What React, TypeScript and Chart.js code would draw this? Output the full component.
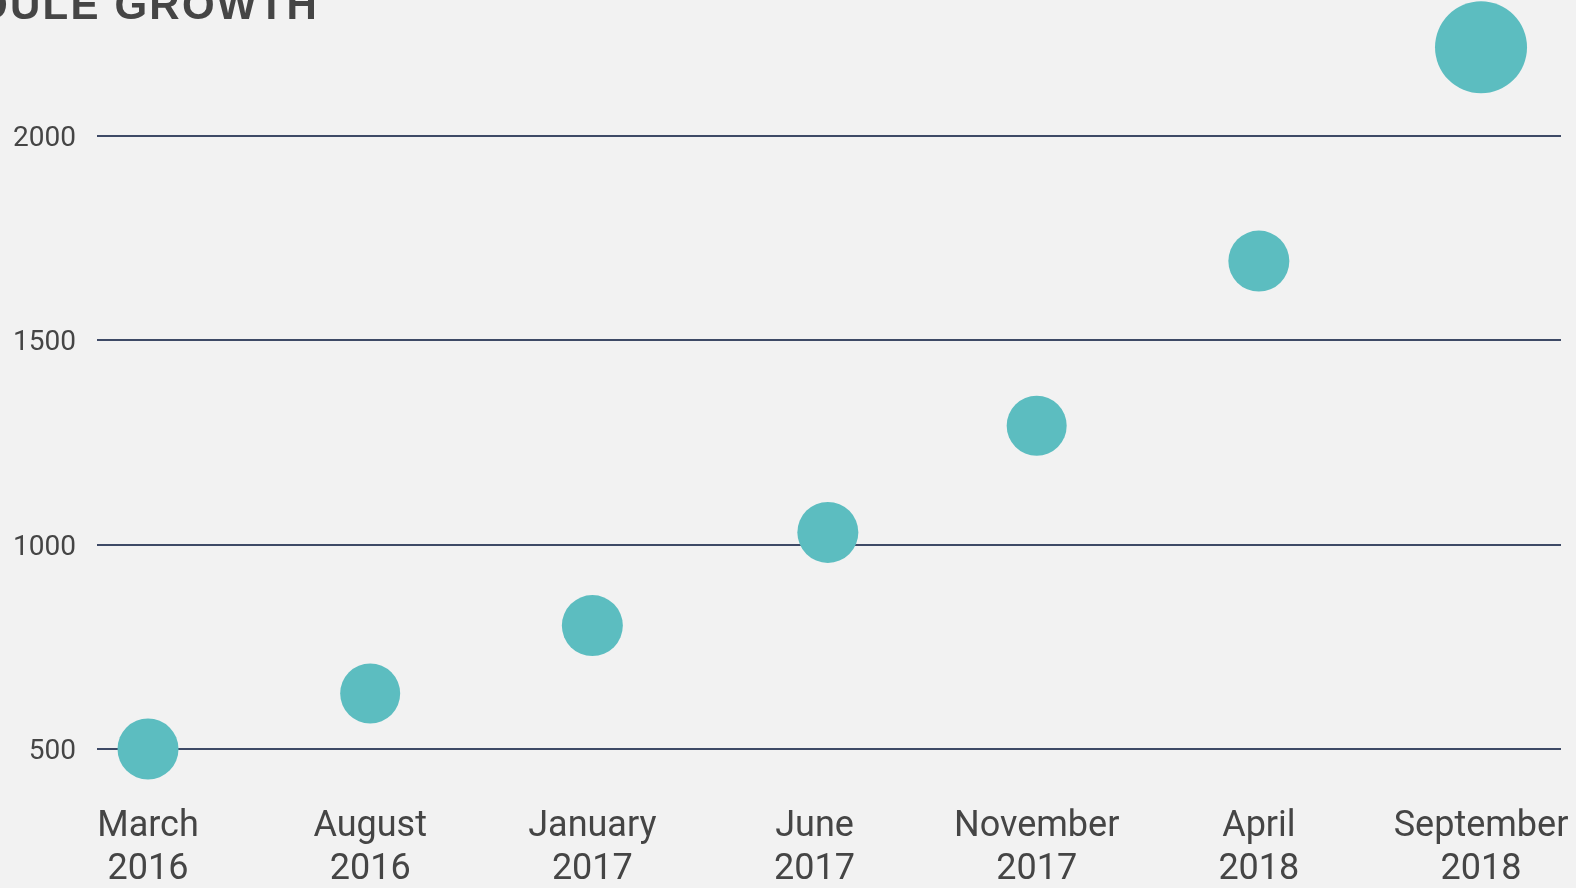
import { useEffect, useRef } from "react";
import { Chart, registerables } from "chart.js";

Chart.register(...registerables);

const titleText = "MODULE GROWTH";
const months = ["March", "August", "January", "June", "November", "April", "September"];
const years = ["2016", "2016", "2017", "2017", "2017", "2018", "2018"];
const xPositions = [0, 1, 2, 3.06, 4, 5, 6];
const values = [500, 636, 802, 1030, 1291, 1694, 2217];
const radii = [30.5, 30, 30.5, 30.5, 30, 30.5, 46];
const yTickValues = [500, 1000, 1500, 2000];

const BG = "#f2f2f2";
const TEXT = "#454545";
const BUBBLE = "#5cbdc0";
const GRID = "#3e4a66";

const titlePlugin = {
  id: "cutTitle",
  afterDraw(chart: any) {
    const ctx = chart.ctx;
    ctx.save();
    ctx.font = "bold 42px 'Liberation Sans', Arial, sans-serif";
    ctx.fillStyle = TEXT;
    (ctx as any).letterSpacing = "2.2px";
    ctx.textAlign = "right";
    ctx.textBaseline = "alphabetic";
    ctx.fillText(titleText, 319, 19);
    ctx.restore();
  },
};

const zeroPadding = (scale: any) => {
  scale.paddingTop = 0;
  scale.paddingBottom = 0;
  scale.paddingLeft = 0;
  scale.paddingRight = 0;
};

export default function App() {
  const ref = useRef<HTMLCanvasElement | null>(null);

  useEffect(() => {
    if (!ref.current) return;
    const chart = new Chart(ref.current, {
      type: "bubble",
      data: {
        datasets: [
          {
            label: titleText,
            data: xPositions.map((x, i) => ({ x, y: values[i], r: radii[i] })),
            backgroundColor: BUBBLE,
            borderWidth: 0,
            hoverBorderWidth: 0,
            clip: false as any,
          },
        ],
      },
      options: {
        animation: false,
        responsive: true,
        maintainAspectRatio: false,
        layout: { autoPadding: false, padding: { top: 0, right: 15, bottom: 0, left: 0 } },
        plugins: {
          legend: { display: false },
          tooltip: { enabled: false },
          title: { display: false },
        },
        scales: {
          x: {
            type: "linear",
            min: -0.2296,
            max: 6.36,
            grid: { display: false, drawTicks: false },
            border: { display: false },
            afterBuildTicks: (scale: any) => {
              scale.ticks = months.map((_, i) => ({ value: i }));
            },
            afterFit: (scale: any) => {
              scale.height = 98;
              zeroPadding(scale);
            },
            ticks: {
              autoSkip: false,
              maxRotation: 0,
              padding: 15,
              color: TEXT,
              font: { family: "Roboto", size: 36, lineHeight: 1.2 },
              callback: (v: any) => {
                const i = Math.round(Number(v));
                return [months[i], years[i]];
              },
            },
          },
          y: {
            type: "linear",
            min: 399.7,
            max: 2332.8,
            grid: { color: GRID, lineWidth: 2, drawTicks: false },
            border: { display: false },
            afterBuildTicks: (scale: any) => {
              scale.ticks = yTickValues.map((v) => ({ value: v }));
            },
            afterFit: (scale: any) => {
              scale.width = 97;
              zeroPadding(scale);
            },
            ticks: {
              padding: 21,
              labelOffset: 3,
              color: TEXT,
              font: { family: "Roboto", size: 28 },
              callback: (v: any) => String(v),
            },
          },
        },
      },
      plugins: [titlePlugin],
    });
    return () => chart.destroy();
  }, []);

  return (
    <div
      style={{
        position: "fixed",
        left: 0,
        top: 0,
        width: 1576,
        height: 888,
        background: BG,
      }}
    >
      <canvas ref={ref} />
    </div>
  );
}
